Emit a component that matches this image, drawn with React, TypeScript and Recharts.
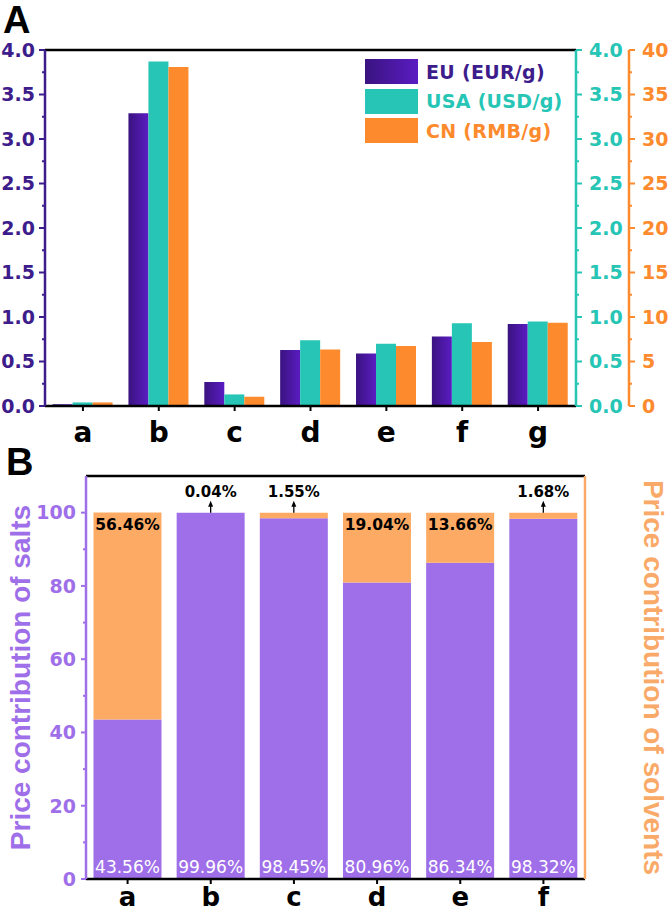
import React from 'react';
import { BarChart, Bar, XAxis, YAxis, Legend, ReferenceLine, LabelList } from 'recharts';

// ---------- Panel A data ----------
const categoriesA = ['a', 'b', 'c', 'd', 'e', 'f', 'g'];
const euPrice = [0.02, 3.29, 0.27, 0.63, 0.59, 0.78, 0.92];
const usaPrice = [0.04, 3.87, 0.13, 0.74, 0.7, 0.93, 0.95];
const cnPrice = [0.4, 38.1, 1.05, 6.35, 6.75, 7.2, 9.35];
const seriesNamesA = ['EU (EUR/g)', 'USA (USD/g)', 'CN (RMB/g)'];
const priceTicks = [0, 0.25, 0.5, 0.75, 1, 1.25, 1.5, 1.75, 2, 2.25, 2.5, 2.75, 3, 3.25, 3.5, 3.75, 4];
const cnTicks = [0, 2.5, 5, 7.5, 10, 12.5, 15, 17.5, 20, 22.5, 25, 27.5, 30, 32.5, 35, 37.5, 40];

// ---------- Panel B data ----------
const categoriesB = ['a', 'b', 'c', 'd', 'e', 'f'];
const saltShare = [43.56, 99.96, 98.45, 80.96, 86.34, 98.32];
const solventShare = [56.46, 0.04, 1.55, 19.04, 13.66, 1.68];
const shareTicks = [0, 10, 20, 30, 40, 50, 60, 70, 80, 90, 100];
const axisTitlesB = ['Price contribution of salts', 'Price contribution of solvents'];

// ---------- colours ----------
const EU_DARK = '#3A1380';
const EU_LIGHT = '#5A1CC2';
const EU_AXIS = '#3D1C8C';
const TEAL = '#26C5B5';
const ORANGE = '#FD8B2E';
const SALT = '#9F6FE9';
const SOLV = '#FDAB64';
const SOLV_AXIS = '#FAAA68';

const dataA = categoriesA.map((c, i) => ({ cat: c, eu: euPrice[i], usa: usaPrice[i], cn: cnPrice[i] }));
const dataB = categoriesB.map((c, i) => ({ cat: c, salt: saltShare[i], solvent: solventShare[i] }));

const TICK_FONT = 'DejaVu Sans';
const TITLE_FONT = '"Liberation Sans", Arial, sans-serif';

type TickOpts = {
  side: 'left' | 'right';
  color: string;
  fontSize: number;
  size: number;
  margin: number;
  minor: number;
  isMajor: (v: number) => boolean;
  fmt: (v: number) => string;
};

const makeTick = (o: TickOpts) => (props: any) => {
  const { x, y, payload } = props;
  const v = payload.value as number;
  const major = o.isMajor(v);
  const axisX = o.side === 'left' ? x + o.size + o.margin : x - o.size - o.margin;
  const len = major ? o.size : o.minor;
  const x2 = o.side === 'left' ? axisX - len : axisX + len;
  return (
    <g>
      <line x1={axisX} x2={x2} y1={y} y2={y} stroke={o.color} strokeWidth={2} />
      {major && (
        <text
          x={x}
          y={y}
          dy="0.36em"
          textAnchor={o.side === 'left' ? 'end' : 'start'}
          fill={o.color}
          fontSize={o.fontSize}
          fontWeight="bold"
          fontFamily={TICK_FONT}
        >
          {o.fmt(v)}
        </text>
      )}
    </g>
  );
};

const isHalf = (v: number) => Math.abs(v * 2 - Math.round(v * 2)) < 1e-6;
const isFive = (v: number) => Math.abs(v / 5 - Math.round(v / 5)) < 1e-6;
const isTwenty = (v: number) => Math.abs(v / 20 - Math.round(v / 20)) < 1e-6;

const euTick = makeTick({ side: 'left', color: EU_AXIS, fontSize: 19, size: 6, margin: 4, minor: 3, isMajor: isHalf, fmt: (v) => v.toFixed(1) });
const usaTick = makeTick({ side: 'right', color: TEAL, fontSize: 19, size: 6, margin: 7, minor: 3, isMajor: isHalf, fmt: (v) => v.toFixed(1) });
const cnTick = makeTick({ side: 'right', color: ORANGE, fontSize: 19, size: 6, margin: 7, minor: 3, isMajor: isFive, fmt: (v) => String(v) });
const saltTick = makeTick({ side: 'left', color: SALT, fontSize: 19, size: 5, margin: 5, minor: 3, isMajor: isTwenty, fmt: (v) => String(v) });
const solvTick = makeTick({ side: 'right', color: SOLV_AXIS, fontSize: 17, size: 5, margin: 7, minor: 3, isMajor: isTwenty, fmt: (v) => String(v) });

const legendItems = [
  { name: seriesNamesA[0], box: `linear-gradient(to right, ${EU_DARK}, ${EU_LIGHT})`, text: EU_AXIS },
  { name: seriesNamesA[1], box: TEAL, text: TEAL },
  { name: seriesNamesA[2], box: ORANGE, text: ORANGE },
];

const LegendBox = () => (
  <div>
    {legendItems.map((it) => (
      <div key={it.name} style={{ display: 'flex', alignItems: 'center', height: 29.5 }}>
        <div style={{ width: 53, height: 25, background: it.box }} />
        <span
          style={{
            marginLeft: 8,
            color: it.text,
            fontFamily: TICK_FONT,
            fontWeight: 'bold',
            fontSize: 19,
            letterSpacing: 0.3,
            whiteSpace: 'nowrap',
          }}
        >
          {it.name}
        </span>
      </div>
    ))}
  </div>
);

const pct = (v: number) => `${v.toFixed(2)}%`;

const getBox = (props: any) => {
  const vb = props.viewBox || {};
  return {
    x: vb.x ?? props.x,
    y: vb.y ?? props.y,
    width: vb.width ?? props.width,
    height: vb.height ?? props.height,
  };
};

const SaltLabel = (props: any) => {
  const { x, y, width, height } = getBox(props);
  const v = Number(props.value);
  return (
    <text
      x={x + width / 2}
      y={y + height - 6}
      textAnchor="middle"
      fill="#ffffff"
      fontSize={17}
      fontFamily={TICK_FONT}
    >
      {pct(v)}
    </text>
  );
};

const SolventLabel = (props: any) => {
  const { x, y, width } = getBox(props);
  const v = Number(props.value);
  const cx = x + width / 2;
  if (v > 5) {
    return (
      <text x={cx} y={y + 17} textAnchor="middle" fill="#000" fontSize={15.5} fontWeight="bold" fontFamily={TICK_FONT}>
        {pct(v)}
      </text>
    );
  }
  return (
    <g>
      <line x1={cx} x2={cx} y1={y} y2={y - 8} stroke="#000" strokeWidth={1.3} />
      <path d={`M${cx - 2.5},${y - 6} L${cx},${y - 12} L${cx + 2.5},${y - 6} Z`} fill="#000" />
      <text x={cx} y={y - 16} textAnchor="middle" fill="#000" fontSize={15} fontWeight="bold" fontFamily={TICK_FONT}>
        {pct(v)}
      </text>
    </g>
  );
};

const LeftTitle = (props: any) => {
  const vb = props.viewBox;
  const cx = vb.x + 20;
  const cy = vb.y + vb.height / 2;
  return (
    <text
      x={cx}
      y={cy}
      transform={`rotate(-90, ${cx}, ${cy})`}
      textAnchor="middle"
      dominantBaseline="central"
      fill={SALT}
      fontSize={28}
      fontWeight="bold"
      fontFamily={TITLE_FONT}
    >
      {axisTitlesB[0]}
    </text>
  );
};

const RightTitle = (props: any) => {
  const vb = props.viewBox;
  const cx = vb.x + vb.width - 17;
  const cy = vb.y + vb.height / 2;
  return (
    <text
      x={cx}
      y={cy}
      transform={`rotate(90, ${cx}, ${cy})`}
      textAnchor="middle"
      dominantBaseline="central"
      fill={SOLV_AXIS}
      fontSize={28}
      fontWeight="bold"
      fontFamily={TITLE_FONT}
    >
      {axisTitlesB[1]}
    </text>
  );
};

export default function App() {
  return (
    <div style={{ position: 'absolute', left: 0, top: 0, width: 670, height: 914, background: '#fff', overflow: 'hidden' }}>
      <div style={{ position: 'absolute', left: 0, top: 0 }}>
        <BarChart
          width={670}
          height={462}
          data={dataA}
          margin={{ top: 50, right: 0, bottom: 0, left: 0 }}
          barCategoryGap="10%"
          barGap={0}
        >
          <defs>
            <linearGradient id="euGrad" x1="0" y1="0" x2="1" y2="0">
              <stop offset="0%" stopColor={EU_DARK} />
              <stop offset="100%" stopColor={EU_LIGHT} />
            </linearGradient>
          </defs>
          <XAxis
            dataKey="cat"
            interval={0}
            height={56}
            tickSize={5}
            tickMargin={11}
            axisLine={{ stroke: '#000', strokeWidth: 2.5 }}
            tickLine={{ stroke: '#000', strokeWidth: 2 }}
            tick={{ fill: '#000', fontSize: 28, fontWeight: 'bold', fontFamily: TICK_FONT }}
          />
          <YAxis
            yAxisId="eu"
            orientation="left"
            width={45}
            domain={[0, 4]}
            ticks={priceTicks}
            interval={0}
            tickSize={6}
            tickMargin={4}
            tickLine={false}
            axisLine={{ stroke: EU_AXIS, strokeWidth: 2.5 }}
            tick={euTick}
          />
          <YAxis
            yAxisId="b_cn"
            orientation="right"
            width={41}
            domain={[0, 40]}
            ticks={cnTicks}
            interval={0}
            tickSize={6}
            tickMargin={7}
            tickLine={false}
            axisLine={{ stroke: ORANGE, strokeWidth: 2.5 }}
            tick={cnTick}
          />
          <YAxis
            yAxisId="a_usa"
            orientation="right"
            width={53}
            domain={[0, 4]}
            ticks={priceTicks}
            interval={0}
            tickSize={6}
            tickMargin={7}
            tickLine={false}
            axisLine={{ stroke: TEAL, strokeWidth: 2.5 }}
            tick={usaTick}
          />
          <ReferenceLine yAxisId="eu" y={4} stroke="#000" strokeWidth={2.5} />
          <Bar dataKey="eu" name={seriesNamesA[0]} yAxisId="eu" fill="url(#euGrad)" isAnimationActive={false} />
          <Bar dataKey="usa" name={seriesNamesA[1]} yAxisId="a_usa" fill={TEAL} isAnimationActive={false} />
          <Bar dataKey="cn" name={seriesNamesA[2]} yAxisId="b_cn" fill={ORANGE} isAnimationActive={false} />
          <Legend
            layout="vertical"
            align="center"
            verticalAlign="middle"
            wrapperStyle={{ left: 365, top: 57, width: 240, height: 90 }}
            content={() => <LegendBox />}
          />
        </BarChart>
      </div>

      <div style={{ position: 'absolute', left: 0, top: 440 }}>
        <BarChart
          width={670}
          height={474}
          data={dataB}
          margin={{ top: 36, right: 0, bottom: 0, left: 0 }}
          barCategoryGap="9%"
          barGap={0}
        >
          <XAxis
            dataKey="cat"
            interval={0}
            height={35}
            tickSize={5}
            tickMargin={4}
            axisLine={{ stroke: '#000', strokeWidth: 2.5 }}
            tickLine={{ stroke: '#000', strokeWidth: 2 }}
            tick={{ fill: '#000', fontSize: 26, fontWeight: 'bold', fontFamily: TICK_FONT }}
          />
          <YAxis
            yAxisId="salt"
            orientation="left"
            width={86}
            domain={[0, 110]}
            ticks={shareTicks}
            interval={0}
            tickSize={5}
            tickMargin={5}
            tickLine={false}
            axisLine={{ stroke: SALT, strokeWidth: 2.5 }}
            tick={saltTick}
            label={{ content: LeftTitle }}
          />
          <YAxis
            yAxisId="solv"
            orientation="right"
            width={85}
            domain={[-10, 100]}
            reversed
            ticks={shareTicks}
            interval={0}
            tickSize={5}
            tickMargin={7}
            tickLine={false}
            axisLine={{ stroke: SOLV_AXIS, strokeWidth: 2.5 }}
            tick={solvTick}
            label={{ content: RightTitle }}
          />
          <ReferenceLine yAxisId="salt" y={110} stroke="#000" strokeWidth={2.5} />
          <Bar dataKey="salt" yAxisId="salt" stackId="s" fill={SALT} isAnimationActive={false}>
            <LabelList dataKey="salt" content={SaltLabel} />
          </Bar>
          <Bar dataKey="solvent" yAxisId="salt" stackId="s" fill={SOLV} isAnimationActive={false}>
            <LabelList dataKey="solvent" content={SolventLabel} />
          </Bar>
        </BarChart>
      </div>

      <svg width={670} height={914} style={{ position: 'absolute', left: 0, top: 0, pointerEvents: 'none' }}>
        <text x={3} y={33} fontSize={38} fontWeight="bold" fontFamily={TITLE_FONT} fill="#000">A</text>
        <text x={6} y={475} fontSize={38} fontWeight="bold" fontFamily={TITLE_FONT} fill="#000">B</text>
      </svg>
    </div>
  );
}
